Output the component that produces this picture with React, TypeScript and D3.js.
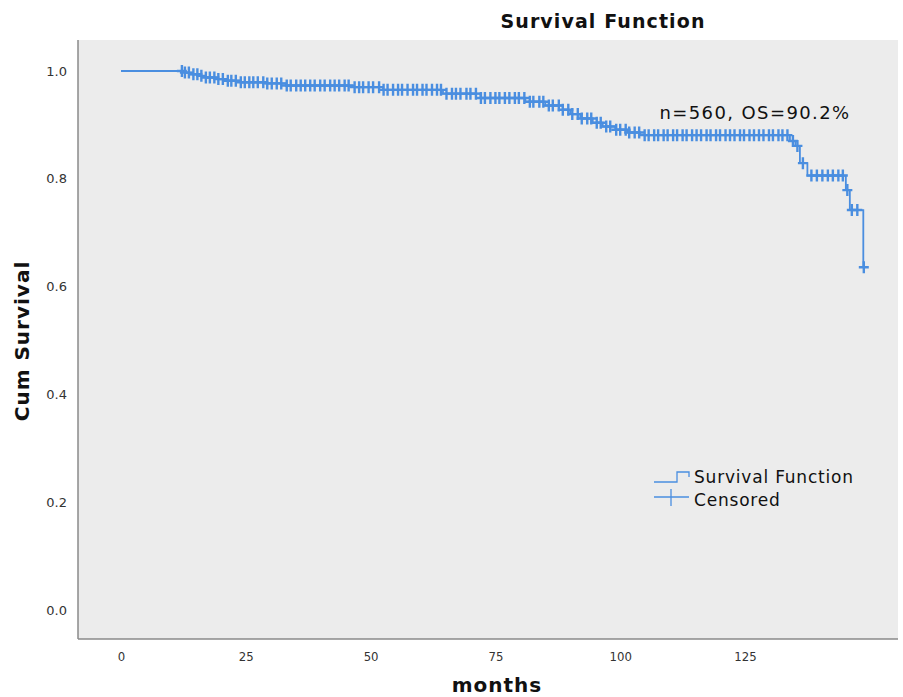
import * as d3 from "d3";
import { useEffect, useRef } from "react";

// Kaplan-Meier steps: time (months) and survival after the drop
const stepTimes = [
  0, 12.8, 14.0, 15.5, 17.0, 19.0, 21.0, 24.0, 29.0, 33.0, 46.5, 52.5, 64.5, 72.0, 81.0, 85.0,
  88.5, 90.0, 92.0, 94.5, 96.5, 99.0, 101.5, 104.0, 134.0, 135.1, 136.0, 137.5, 145.2, 146.0, 148.7,
];
const stepSurvival = [
  1.0, 0.997, 0.994, 0.991, 0.988, 0.985, 0.982, 0.979, 0.977, 0.973, 0.97, 0.965, 0.958, 0.95,
  0.943, 0.936, 0.928, 0.92, 0.912, 0.904, 0.897, 0.891, 0.886, 0.881, 0.87, 0.861, 0.829, 0.806,
  0.779, 0.742, 0.636,
];

// censored cases (months)
const censorTimes = [
  12.2, 12.8, 13.6, 14.5, 15.3, 16.1, 17.0, 17.8, 18.7, 19.5, 20.4, 21.4, 22.1, 23.0, 24.0, 24.8,
  25.7, 26.5, 27.4, 28.5, 29.3, 30.2, 31.2, 32.1, 33.2, 34.0, 35.1, 36.0, 36.9, 37.9, 38.8, 39.9,
  40.8, 41.9, 42.8, 43.7, 44.8, 45.6, 46.8, 47.7, 48.5, 49.6, 50.5, 51.7, 52.6, 53.4, 54.5, 55.5,
  56.3, 57.4, 58.5, 59.3, 60.4, 61.2, 62.3, 63.3, 64.1, 65.2, 66.3, 67.1, 68.0, 69.2, 70.0, 71.1,
  72.1, 72.9, 74.0, 75.0, 75.8, 76.9, 77.8, 78.9, 79.7, 80.8, 81.9, 82.6, 83.8, 84.6, 85.7, 86.5,
  87.7, 88.5, 89.6, 90.4, 91.5, 92.3, 93.4, 94.2, 95.3, 96.1, 97.2, 98.0, 99.2, 100.0, 101.1, 101.8,
  102.9, 103.8, 104.9, 105.7, 106.8, 107.6, 108.7, 109.5, 110.6, 111.4, 112.5, 113.3, 114.4, 115.3,
  116.2, 117.3, 118.1, 119.2, 120.0, 121.1, 122.0, 122.9, 124.0, 124.8, 125.9, 126.8, 127.8, 128.7,
  129.8, 130.6, 131.7, 132.5, 133.5, 134.6, 135.5, 136.6, 138.3, 139.4, 140.5, 141.6, 142.6, 143.7,
  144.6, 145.5, 146.4, 147.5, 148.8,
];

const xTicks = [0, 25, 50, 75, 100, 125];
const yTicks = [0, 0.2, 0.4, 0.6, 0.8, 1.0];

const title = "Survival Function";
const annotation = "n=560, OS=90.2%";
const legendLabels = ["Survival Function", "Censored"];

const W = 903;
const H = 697;
const BLUE = "#4a8ee0";
const FONT = "'DejaVu Sans', Verdana, sans-serif";

function App() {
  const ref = useRef<SVGSVGElement>(null);

  useEffect(() => {
    const svg = d3.select(ref.current);
    svg.selectAll("*").remove();

    // pixel frame of the plot panel
    const frame = { left: 78, top: 40, right: 898, bottom: 639 };

    const x = d3.scaleLinear().domain([0, 125]).range([121, 745]);
    const y = d3.scaleLinear().domain([0, 1]).range([610, 71]);

    svg.append("rect")
      .attr("x", frame.left)
      .attr("y", frame.top)
      .attr("width", frame.right - frame.left)
      .attr("height", frame.bottom - frame.top)
      .attr("fill", "#ececec");

    // axes: labels only, no tick marks
    const gy = svg.append("g")
      .attr("transform", `translate(${frame.left},0)`)
      .call(d3.axisLeft(y).tickValues(yTicks).tickSize(0).tickPadding(11).tickFormat(d3.format(".1f")));
    gy.select(".domain").remove();
    gy.selectAll("text")
      .attr("font-family", FONT)
      .attr("font-size", 13)
      .attr("fill", "#333");

    const gx = svg.append("g")
      .attr("transform", `translate(0,${frame.bottom})`)
      .call(d3.axisBottom(x).tickValues(xTicks).tickSize(0).tickPadding(13).tickFormat(d3.format("d")));
    gx.select(".domain").remove();
    gx.selectAll("text")
      .attr("font-family", "'Liberation Sans Narrow', 'DejaVu Sans Condensed', sans-serif")
      .attr("font-size", 13)
      .attr("fill", "#333");

    svg.append("line")
      .attr("x1", frame.left).attr("x2", frame.left)
      .attr("y1", frame.top).attr("y2", frame.bottom)
      .attr("stroke", "#8a8a8a").attr("stroke-width", 1.5);
    svg.append("line")
      .attr("x1", frame.left).attr("x2", frame.right)
      .attr("y1", frame.bottom).attr("y2", frame.bottom)
      .attr("stroke", "#8a8a8a").attr("stroke-width", 1.5);

    // survival curve
    const last = censorTimes[censorTimes.length - 1];
    const pts: [number, number][] = stepTimes.map((t, i) => [t, stepSurvival[i]]);
    pts.push([last, stepSurvival[stepSurvival.length - 1]]);

    const line = d3.line<[number, number]>()
      .x((d) => x(d[0]))
      .y((d) => y(d[1]))
      .curve(d3.curveStepAfter);

    svg.append("path")
      .attr("d", line(pts)!)
      .attr("fill", "none")
      .attr("stroke", BLUE)
      .attr("stroke-width", 1.8);

    const survAt = (t: number) => {
      let s = 1;
      stepTimes.forEach((st, i) => {
        if (st <= t) s = stepSurvival[i];
      });
      return s;
    };

    svg.append("g")
      .selectAll("path")
      .data(censorTimes)
      .join("path")
      .attr("transform", (d) => `translate(${x(d)},${y(survAt(d))})`)
      .attr("d", "M-5,0H5M0,-6V6")
      .attr("fill", "none")
      .attr("stroke", BLUE)
      .attr("stroke-width", 2.4);

    // titles
    svg.append("text")
      .attr("x", 603).attr("y", 28)
      .attr("text-anchor", "middle")
      .attr("font-family", FONT)
      .attr("font-weight", "bold")
      .attr("font-size", 19)
      .attr("letter-spacing", 1.1)
      .attr("fill", "#111")
      .text(title);

    svg.append("text")
      .attr("transform", `translate(29,${341}) rotate(-90)`)
      .attr("text-anchor", "middle")
      .attr("font-family", FONT)
      .attr("font-weight", "bold")
      .attr("font-size", 20)
      .attr("letter-spacing", 1)
      .attr("fill", "#111")
      .text("Cum Survival");

    svg.append("text")
      .attr("x", 497).attr("y", 692)
      .attr("text-anchor", "middle")
      .attr("font-family", FONT)
      .attr("font-weight", "bold")
      .attr("font-size", 20)
      .attr("letter-spacing", 1)
      .attr("fill", "#111")
      .text("months");

    svg.append("text")
      .attr("x", 755).attr("y", 119)
      .attr("text-anchor", "middle")
      .attr("font-family", FONT)
      .attr("font-size", 18)
      .attr("letter-spacing", 1.4)
      .attr("fill", "#111")
      .text(annotation);

    // legend
    const lg = svg.append("g").attr("transform", "translate(654,482)");
    lg.append("path")
      .attr("d", "M0,0H23V-10H35V-5")
      .attr("fill", "none")
      .attr("stroke", BLUE)
      .attr("stroke-width", 1.3);
    lg.append("path")
      .attr("d", "M0,15H35M17,7V24")
      .attr("fill", "none")
      .attr("stroke", BLUE)
      .attr("stroke-width", 1.3);
    lg.selectAll("text")
      .data(legendLabels)
      .join("text")
      .attr("x", 40)
      .attr("y", (_, i) => 1 + i * 23)
      .attr("font-family", FONT)
      .attr("font-size", 17)
      .attr("letter-spacing", 0.8)
      .attr("fill", "#111")
      .text((d) => d);
  }, []);

  return (
    <svg
      ref={ref}
      width={W}
      height={H}
      style={{ position: "absolute", left: 0, top: 0, background: "#fff" }}
    />
  );
}

export default App;
